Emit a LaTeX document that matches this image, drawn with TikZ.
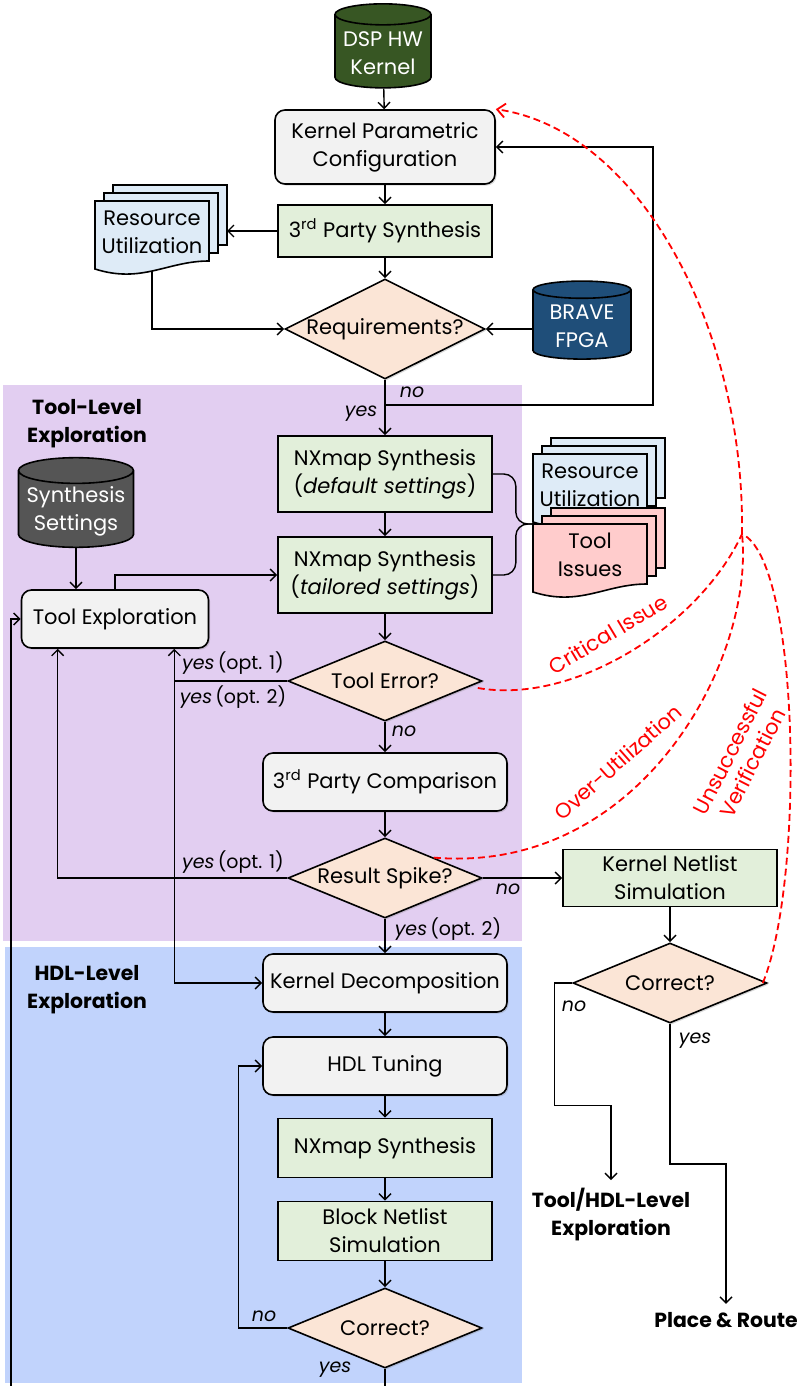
\documentclass[tikz,border=0pt]{standalone}
\usepackage{fontspec}
\setmainfont{Poppins}
\usetikzlibrary{positioning,arrows.meta,shapes.geometric,shadows,calc}

\definecolor{kgrn}{HTML}{375623}
\definecolor{kblu}{HTML}{1F4E79}
\definecolor{kgry}{HTML}{555555}
\definecolor{boxg}{HTML}{F2F2F2}
\definecolor{boxs}{HTML}{E2EFDA}
\definecolor{boxd}{HTML}{FBE5D6}
\definecolor{docb}{HTML}{DEEBF7}
\definecolor{docr}{HTML}{FFCCCC}
\definecolor{bgtl}{HTML}{E2CEF1}
\definecolor{bghd}{HTML}{C1D3FC}

% stacked document: name, cx, cy, fill, text
\newcommand{\docstack}[5]{%
  \draw[dk,fill=#4] ($(#2,#3)+(-39,-51)$) rectangle ++(114,60);
  \draw[dk,fill=#4] ($(#2,#3)+(-48,-43)$) rectangle ++(114,60);
  \draw[dk,fill=#4] ($(#2,#3)+(-57,-35)$) -- ($(#2,#3)+(57,-35)$) -- ($(#2,#3)+(57,25)$)
    .. controls ($(#2,#3)+(15,25)$) and ($(#2,#3)+(-10,48)$) .. ($(#2,#3)+(-57,33)$) -- cycle;
  \node[dt] (#1) at ($(#2,#3)+(0,-4)$) {#5};
  \coordinate (#1-e) at ($(#2,#3)+(75,0)$);
  \coordinate (#1-s) at ($(#2,#3)+(0,35)$);
  \coordinate (#1-nw) at ($(#2,#3)+(-57,-35)$);
}

\begin{document}
\begin{tikzpicture}[x=0.5pt,y=-0.5pt,
  bx/.style={draw,line width=0.8pt,align=center,inner sep=2pt,font=\fontsize{10.5}{14}\selectfont},
  pr/.style={bx,rounded corners=5pt,fill=boxg,drop shadow={opacity=0.3,shadow xshift=0.8pt,shadow yshift=-0.8pt}},
  sy/.style={bx,fill=boxs},
  dc/.style={bx,diamond,aspect=2.4,inner sep=0pt,fill=boxd,minimum width=97pt,minimum height=40pt,
    drop shadow={opacity=0.3,shadow xshift=0.8pt,shadow yshift=-0.8pt}},
  db/.style={bx,cylinder,shape border rotate=90,aspect=0.25,inner sep=1pt,text=white},
  dk/.style={line width=0.8pt},
  dt/.style={align=center,inner sep=1pt,font=\fontsize{10.5}{14}\selectfont},
  lk/.style={-{Straight Barb[length=3pt,width=6pt]},line width=0.7pt},
  lb/.style={font=\fontsize{9.5}{11}\selectfont,inner sep=1pt},
  rd/.style={red,line width=0.9pt,dash pattern=on 3.5pt off 2pt},
  ttl/.style={font=\fontsize{10.2}{14}\selectfont\bfseries,align=center,inner sep=4pt},
  rl/.style={text=red,font=\fontsize{10.5}{12.5}\selectfont,align=center}]

\useasboundingbox (0,0) rectangle (801,1386);

% --- backgrounds ---
\fill[bgtl] (3,385) rectangle (522,941);
\fill[bghd] (5,947) rectangle (522,1383);
\node[ttl] (tlx) at (87,424) {Tool-Level\\Exploration};
\node[ttl] (hlx) at (87,990) {HDL-Level\\Exploration};

% --- top part ---
\node[db,fill=kgrn,minimum width=48pt,minimum height=42pt] (dsp) at (383,53) {DSP HW\\Kernel};
\node[pr,minimum width=110pt,minimum height=37pt] (kpc) at (385,147) {Kernel Parametric\\Configuration};
\node[sy,minimum width=107pt,minimum height=26pt] (tps) at (385,231) {3\textsuperscript{rd} Party Synthesis};
\node[dc,aspect=2,minimum width=97pt,minimum height=49pt] (req) at (385,329) {Requirements?};
\node[db,fill=kblu,minimum width=49pt,minimum height=39pt] (brv) at (582,326) {BRAVE\\FPGA};
\docstack{ru1}{152}{236}{docb}{Resource\\Utilization}

\draw[lk] (dsp) -- (kpc);
\draw[lk] (kpc) -- (tps);
\draw[lk] (tps.west) -- (tps.west-|ru1-e);
\draw[lk] (tps) -- (req);
\draw[lk] (ru1-s) |- (req.west);
\draw[lk] (brv.west|-req.east) -- (req.east);

% --- tool level ---
\node[sy,minimum width=107pt,minimum height=38pt] (nxd) at (385,474) {NXmap Synthesis\\(\textit{default settings})};
\node[sy,minimum width=107pt,minimum height=38pt] (nxt) at (385,575) {NXmap Synthesis\\(\textit{tailored settings})};
\node[db,fill=kgry,minimum width=57.5pt,minimum height=41pt] (sst) at (76,511) {Synthesis\\Settings};
\node[pr,minimum width=93.5pt,minimum height=29pt] (tex) at (115,619) {Tool Exploration};
\node[dc] (ter) at (385,681) {Tool Error?};
\node[pr,minimum width=122pt,minimum height=29pt] (tpc) at (385,782) {3\textsuperscript{rd} Party Comparison};
\node[dc] (rsp) at (385,878) {Result Spike?};
\docstack{ru2}{590}{489}{docb}{Resource\\Utilization}
\docstack{tis}{590}{559}{docr}{Tool\\Issues}

\coordinate (nolp) at (653,405);
\draw[lk] (req.south) |- (nolp) |- (kpc.east);
\draw[lk] (req) -- (nxd);
\node[lb] (lno1) at (412,392) {\textit{no}};
\node[lb] (lye1) at (361,414) {\textit{yes}};
\draw[lk] (nxd) -- (nxt);
\draw[rounded corners=6pt,line width=0.7pt] (nxd.east) -- ++(23,0) |- (tis-nw);
\draw[rounded corners=6pt,line width=0.7pt] (nxt.east) -- ++(23,0) |- (tis-nw);
\draw[lk] (sst.south) -- (sst.south|-tex.north);
\draw[lk] (tex.north) |- (nxt.west);
\draw[lk] (nxt) -- (ter);

\coordinate (teb1) at ($(tex.south west)+(37,0)$);
\coordinate (teb2) at ($(tex.south east)+(-35,0)$);
\draw[lk] (ter.west) -| (teb2);
\node[lb] (lo1) at (233,663) {\textit{yes}\,(opt. 1)};
\node[lb] (lo2) at (233,697) {\textit{yes}\,(opt. 2)};
\draw[lk] (ter) -- (tpc);
\node[lb] (lno2) at (404,731) {\textit{no}};
\draw[lk] (tpc) -- (rsp);
\draw[lk] (rsp.west) -| (teb1);
\node[lb] (lo3) at (233,862) {\textit{yes}\,(opt. 1)};

% --- verification branch ---
\node[sy,minimum width=107pt,minimum height=28.5pt] (kns) at (670,878) {Kernel Netlist\\Simulation};
\node[dc] (crr) at (670,983) {Correct?};
\node[ttl] (thx) at (611,1215) {Tool/HDL-Level\\Exploration};
\node[ttl] (plr) at (726,1320) {Place \& Route};
\draw[lk] (rsp) -- (kns);
\node[lb] (lno3) at (508,889) {\textit{no}};
\draw[lk] (kns) -- (crr);
\draw[lk] (crr.west) -- ++(-18,0) |- ($(thx.north)+(0,-75)$) -- (thx.north);
\node[lb] (lno4) at (574,1006) {\textit{no}};
\draw[lk] (crr.south) |- ($(plr.north)+(0,-140)$) -- (plr.north);
\node[lb] (lye2) at (695,1041) {\textit{yes}};

% --- HDL level ---
\node[pr,minimum width=122pt,minimum height=29pt] (kdc) at (385,983) {Kernel Decomposition};
\node[pr,minimum width=122pt,minimum height=29pt] (hdt) at (385,1066) {HDL Tuning};
\node[sy,minimum width=107pt,minimum height=29.5pt] (nxs) at (385,1148) {NXmap Synthesis};
\node[sy,minimum width=107pt,minimum height=29.5pt] (bns) at (385,1231) {Block Netlist\\Simulation};
\node[dc] (crb) at (385,1328) {Correct?};
\coordinate (bot) at (385,1386);
\coordinate (lft) at (11,1386);

\draw[lk] (teb2|-ter.west) |- (kdc.west);
\draw[lk] (rsp) -- (kdc);
\node[lb] (lo4) at (448,929) {\textit{yes}\,(opt. 2)};
\draw[lk] (kdc) -- (hdt);
\draw[lk] (hdt) -- (nxs);
\draw[lk] (nxs) -- (bns);
\draw[lk] (bns) -- (crb);
\draw[lk] (crb.west) -- ++(-49,0) |- (hdt.west);
\node[lb] (lno5) at (264,1316) {\textit{no}};
\draw[line width=0.7pt] (crb.south) -- (bot);
\node[lb] (lye3) at (335,1370) {\textit{yes}};
\draw[lk] (lft) |- (tex.west);

% --- red feedback ---
\coordinate (hub) at (742,534);
\draw[rd,-{Straight Barb[length=4pt,width=7pt]}] (hub) .. controls (745,330) and (640,130) .. (kpc.north east);
\draw[rd] ([shift={(-5,7)}]ter.east) .. controls (575,705) and (700,625) .. (hub);
\draw[rd] (rsp.north east) .. controls (640,875) and (755,660) .. (hub);
\draw[rd] ([shift={(-5,0)}]crr.east) .. controls (805,880) and (800,560) .. (hub);
\node[rl,rotate=31] (lci) at (608,634) {Critical Issue};
\node[rl,rotate=41.5] (lou) at (618,762) {Over-Utilization};
\node[rl,rotate=63] (luv) at (741,757) {Unsuccessful\\Verification};
\end{tikzpicture}
\end{document}
